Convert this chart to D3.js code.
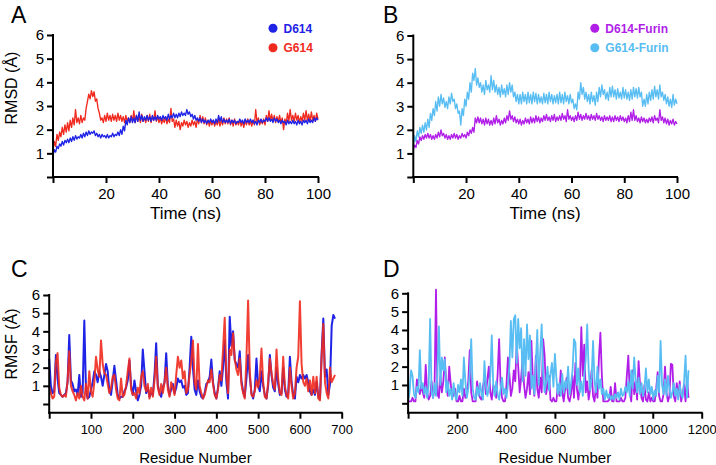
<!DOCTYPE html>
<html><head><meta charset="utf-8">
<script src="https://cdn.jsdelivr.net/npm/d3@7"></script>
<style>
html,body{margin:0;padding:0;background:#fff;}
svg{display:block;font-family:"Liberation Sans",Arial,Helvetica,sans-serif;}
</style></head>
<body>
<svg id="chart" width="716" height="465"></svg>
<script>
// ---------- DATA ----------
const yTicks = [0,1,2,3,4,5,6];
const timeTicks = [0,20,40,60,80,100];
const residueTicksC = [0,100,200,300,400,500,600,700];
const residueTicksD = [0,200,400,600,800,1000,1200];
const timeDomain = [0,100];
const rmsfStepC = 4;   // residue spacing of RMSF samples, panel C
const rmsfStepD = 6;   // residue spacing of RMSF samples, panel D

const seriesNamesA = ["D614","G614"];
const seriesNamesB = ["D614-Furin","G614-Furin"];

// RMSD (Å), sampled every 0.5 ns from 0 to 100 ns
const rmsdD614 = [0.9,
1.15,1.05,1.3,1.2,1.4,1.3,1.5,1.35,1.55,1.45,
1.6,1.45,1.65,1.5,1.7,1.55,1.75,1.6,1.7,1.65,
1.8,1.65,1.85,1.7,1.9,1.75,1.95,1.8,1.9,1.85,
1.95,1.75,1.85,1.7,1.8,1.65,1.8,1.7,1.75,1.65,
1.8,1.65,1.75,1.7,1.85,1.7,1.8,1.75,1.9,1.75,
2.0,1.8,2.15,1.95,2.4,2.2,2.5,2.3,2.55,2.3,
2.5,2.3,2.6,2.35,2.75,2.4,2.6,2.35,2.55,2.4,
2.6,2.4,2.55,2.35,2.6,2.4,2.55,2.4,2.6,2.45,
2.55,2.4,2.6,2.45,2.55,2.4,2.65,2.45,2.6,2.5,
2.7,2.5,2.65,2.5,2.7,2.55,2.75,2.6,2.7,2.6,
2.85,2.65,2.75,2.55,2.65,2.45,2.6,2.4,2.5,2.35,
2.5,2.3,2.45,2.3,2.4,2.25,2.4,2.3,2.45,2.3,
2.4,2.25,2.45,2.3,2.6,2.35,2.55,2.3,2.45,2.3,
2.4,2.3,2.45,2.25,2.4,2.3,2.4,2.25,2.35,2.3,
2.45,2.3,2.4,2.25,2.45,2.3,2.4,2.3,2.45,2.3,
2.4,2.25,2.35,2.2,2.4,2.3,2.45,2.3,2.4,2.35,
2.5,2.35,2.5,2.35,2.45,2.3,2.5,2.35,2.45,2.3,
2.4,2.25,2.4,2.3,2.35,2.2,2.4,2.25,2.35,2.25,
2.4,2.25,2.35,2.2,2.4,2.25,2.35,2.2,2.4,2.3,
2.4,2.25,2.45,2.3,2.4,2.3,2.5,2.35,2.5,2.4];

const rmsdG614 = [1.1,
1.5,1.3,1.8,1.55,1.9,1.7,2.1,1.8,2.2,1.9,
2.3,1.95,2.4,2.1,2.5,2.2,2.85,2.3,2.5,2.25,
2.6,2.3,2.5,2.4,2.9,3.2,3.5,3.3,3.65,3.4,
3.6,3.2,3.3,2.9,2.7,2.4,2.5,2.3,2.6,2.35,
2.7,2.4,2.6,2.35,2.65,2.4,2.6,2.35,2.7,2.4,
2.6,2.35,2.55,2.3,2.6,2.35,2.5,2.3,2.6,2.35,
2.8,2.3,2.6,2.35,2.55,2.3,2.65,2.35,2.5,2.3,
2.6,2.35,2.65,2.3,2.55,2.4,2.8,2.35,2.55,2.3,
2.5,2.25,2.45,2.3,2.55,2.25,2.45,2.3,2.9,2.35,
2.45,2.1,2.4,2.15,2.35,2.0,2.3,2.15,2.4,2.2,
2.35,2.1,2.3,2.15,2.4,2.2,2.35,2.1,2.45,2.25,
2.6,2.3,2.55,2.25,2.5,2.2,2.4,2.15,2.35,2.2,
2.4,2.15,2.35,2.2,2.45,2.15,2.4,2.2,2.5,2.25,
2.45,2.25,2.5,2.2,2.4,2.15,2.45,2.2,2.35,2.2,
2.4,2.15,2.35,2.1,2.4,2.2,2.45,2.2,2.35,2.15,
2.4,2.2,2.85,2.3,2.5,2.2,2.4,2.25,2.45,2.2,
2.6,2.35,2.8,2.4,2.65,2.35,2.6,2.3,2.55,2.35,
2.6,2.3,2.5,2.0,2.45,2.25,2.7,2.35,2.85,2.4,
2.6,2.35,2.7,2.4,2.6,2.3,2.55,2.35,2.7,2.4,
2.8,2.4,2.65,2.35,2.75,2.4,2.6,2.35,2.7,2.45];

const rmsdD614Furin = [1.15,
1.35,1.25,1.55,1.4,1.7,1.55,1.75,1.6,1.8,1.65,
1.85,1.65,1.8,1.6,1.75,1.6,1.8,1.65,1.9,1.7,
2.0,1.75,1.85,1.65,1.8,1.6,1.75,1.6,1.8,1.65,
1.85,1.65,1.8,1.6,1.75,1.65,1.85,1.7,1.8,1.65,
1.9,1.75,2.0,1.85,2.1,1.9,2.5,2.3,2.55,2.3,
2.5,2.25,2.45,2.2,2.5,2.25,2.45,2.2,2.4,2.2,
2.5,2.25,2.6,2.3,2.45,2.2,2.4,2.25,2.5,2.3,
2.6,2.4,2.8,2.45,2.6,2.35,2.55,2.3,2.45,2.25,
2.45,2.2,2.4,2.25,2.5,2.3,2.45,2.25,2.55,2.3,
2.5,2.3,2.6,2.35,2.55,2.3,2.5,2.35,2.6,2.4,
2.65,2.4,2.55,2.35,2.6,2.4,2.65,2.35,2.55,2.4,
2.6,2.4,2.7,2.45,2.6,2.35,2.85,2.45,2.6,2.4,
2.55,2.35,2.6,2.4,2.75,2.45,2.65,2.4,2.6,2.45,
2.7,2.45,2.6,2.4,2.65,2.45,2.6,2.4,2.7,2.45,
2.6,2.4,2.55,2.35,2.6,2.4,2.55,2.4,2.6,2.35,
2.55,2.35,2.6,2.4,2.55,2.35,2.6,2.4,2.55,2.35,
2.5,2.3,2.6,2.35,2.75,2.4,2.85,2.4,2.6,2.35,
2.5,2.3,2.55,2.35,2.5,2.3,2.45,2.3,2.5,2.35,
2.55,2.3,2.6,2.4,2.5,2.3,2.85,2.4,2.55,2.3,
2.5,2.25,2.45,2.2,2.4,2.25,2.45,2.2,2.35,2.25];

const rmsdG614Furin = [1.3,
1.75,1.5,1.95,1.7,2.1,1.85,2.2,1.9,2.3,2.0,
2.45,2.1,2.7,2.4,2.9,2.6,3.2,2.8,3.4,3.0,
3.5,3.1,3.35,2.95,3.2,2.9,3.4,3.1,3.55,3.2,
3.3,2.9,3.1,2.7,2.8,2.2,2.9,2.6,3.3,3.0,
3.6,3.3,4.0,3.6,4.4,4.1,4.6,3.9,4.2,3.8,
4.0,3.6,3.9,3.5,4.1,3.7,3.9,3.6,4.3,3.7,
4.1,3.6,3.9,3.5,3.8,3.4,3.9,3.5,3.75,3.4,
3.9,3.5,4.0,3.6,3.9,3.4,3.6,3.2,3.5,3.1,
3.5,3.1,3.6,3.2,3.5,3.1,3.6,3.15,3.5,3.1,
3.6,3.2,3.55,3.1,3.5,3.15,3.4,3.1,3.55,3.15,
3.5,3.1,3.6,3.2,3.5,3.1,3.45,3.15,3.5,3.1,
3.6,3.15,3.5,3.1,3.6,3.2,3.45,3.1,3.5,3.15,
3.3,2.9,3.1,2.85,3.6,3.3,4.0,3.5,3.8,3.3,
3.6,3.2,3.5,3.1,3.6,3.2,3.45,3.05,3.6,3.2,
3.8,3.4,3.9,3.5,3.7,3.3,3.6,3.25,3.8,3.4,
3.85,3.4,3.7,3.3,3.75,3.35,3.6,3.3,3.8,3.35,
3.7,3.3,3.6,3.25,3.7,3.3,3.8,3.4,3.75,3.35,
3.8,3.4,3.6,3.0,3.3,3.0,3.5,3.1,3.6,3.25,
3.7,3.3,3.85,3.4,3.7,3.3,3.9,3.4,3.6,3.25,
3.5,3.1,3.4,3.0,3.3,2.95,3.5,3.05,3.3,3.1];

// RMSF (Å) per residue, panel C (every 4 residues from 0)
const rmsfD614 = [2.5,1.0,0.6,0.7,2.7,1.4,0.6,0.5,0.4,0.5,
0.6,1.2,3.8,1.3,1.1,0.7,0.8,0.5,1.6,0.4,
0.6,4.6,0.8,0.3,0.4,0.8,1.2,1.8,1.6,1.2,
1.8,1.5,1.0,1.6,2.2,1.8,0.7,0.5,1.3,2.1,
1.3,0.5,0.3,0.4,0.4,0.7,0.9,1.3,2.4,1.0,
0.5,1.3,0.7,0.2,0.5,1.0,3.0,1.8,0.6,0.9,
0.4,0.6,0.5,1.6,3.35,1.0,0.6,0.4,0.9,1.2,
2.8,1.0,0.5,0.8,1.1,0.6,0.9,1.4,1.2,1.3,
0.9,1.0,0.5,0.6,2.0,3.7,2.0,0.8,0.5,1.3,
0.7,0.4,0.3,0.6,1.1,1.2,1.5,2.45,1.2,0.6,
0.3,0.9,1.8,1.0,2.0,3.5,1.2,0.3,4.8,3.2,
4.0,2.4,2.2,2.0,2.9,1.3,0.7,0.4,1.4,2.7,
1.5,0.6,0.3,0.8,2.5,1.0,0.7,1.8,1.0,0.5,
0.3,1.0,2.7,1.6,0.9,0.7,2.0,1.1,0.5,0.6,
2.0,0.8,0.4,0.6,2.6,1.2,0.5,0.3,1.5,1.2,
1.6,1.4,1.6,1.4,1.6,1.2,0.7,0.5,0.8,0.5,
1.2,0.4,0.3,2.8,4.7,1.5,1.9,0.5,1.1,4.3,
4.9,4.7];

const rmsfG614 = [1.0,0.6,0.3,0.4,2.3,2.8,0.9,0.5,0.4,0.5,
0.4,1.3,2.9,1.0,0.7,0.5,0.2,0.6,0.3,1.0,
0.4,0.2,1.1,0.3,1.8,0.7,0.4,1.2,2.6,1.9,
1.5,3.5,2.2,1.7,1.6,1.1,0.6,0.9,1.5,1.6,
0.8,0.3,0.2,1.4,0.4,0.5,1.0,1.8,2.5,0.8,
0.5,0.6,0.3,0.9,0.6,1.5,1.8,1.0,0.7,1.1,
0.3,0.9,0.4,1.3,2.6,0.9,0.5,1.1,0.6,1.2,
2.0,0.8,0.4,1.2,0.9,0.5,1.6,2.6,2.0,2.4,
1.4,1.8,0.6,0.8,1.6,2.4,3.5,1.2,0.8,3.3,
1.0,0.6,0.3,0.5,0.9,1.3,1.2,1.9,1.1,0.5,
0.3,0.8,1.6,1.3,3.0,4.75,1.6,0.6,3.0,2.7,
3.9,2.5,1.9,1.6,2.5,1.1,0.6,0.3,2.5,5.7,
1.8,0.5,0.4,0.7,1.3,0.9,1.5,3.05,1.2,0.4,
0.3,1.2,2.5,1.7,1.1,0.8,3.0,1.4,0.6,0.5,
2.6,1.0,0.5,0.3,2.0,1.0,0.3,0.6,2.0,2.6,
5.65,2.2,1.2,1.0,1.4,0.7,1.3,0.5,1.5,0.6,
1.5,0.3,0.2,2.6,4.4,1.2,0.6,0.3,2.0,1.2,
1.4,1.6];

// RMSF (Å) per residue, panel D (every 6 residues from 0)
const rmsfD614Furin = [0.1,0.1,0.1,0.3,0.1,0.1,1.3,0.8,0.5,1.0,
0.6,0.3,2.1,0.6,0.2,0.4,1.2,0.3,0.8,6.2,
0.5,0.3,1.5,0.6,1.2,2.5,1.0,0.4,2.0,1.1,
0.3,0.5,0.8,0.1,0.1,0.4,0.1,0.1,0.8,0.3,
0.5,1.2,2.9,0.6,0.1,0.1,0.1,1.2,0.6,0.3,
0.2,0.9,1.4,0.5,1.3,2.0,0.6,0.2,1.0,0.8,
0.3,1.6,3.5,1.0,0.3,0.1,0.1,1.0,2.5,1.6,
0.4,0.8,1.8,1.2,3.3,2.0,0.6,1.4,2.4,1.0,
0.3,0.8,1.7,0.5,3.4,1.2,0.4,2.6,0.8,0.3,
1.4,0.6,3.5,2.6,0.5,1.0,1.5,0.2,0.1,0.3,
0.1,0.1,1.0,0.4,1.8,0.6,0.1,0.8,1.4,0.3,
0.1,0.5,1.5,0.3,2.2,0.8,0.2,1.0,4.15,1.5,
3.2,0.6,1.2,0.2,0.8,1.8,0.4,0.1,1.0,0.3,
2.5,3.85,1.5,0.1,0.1,0.1,0.1,0.2,0.9,0.1,
0.1,1.1,0.1,0.1,0.1,0.3,0.1,0.1,0.3,1.5,
2.6,0.6,0.1,1.8,0.5,1.2,0.2,2.3,1.0,0.3,
0.1,1.0,0.2,0.1,0.6,0.1,0.3,0.1,0.1,0.8,
1.7,0.4,0.1,0.1,0.5,2.0,0.6,0.1,0.4,2.15,
2.1,0.4,0.1,1.1,0.3,1.2,0.1,0.5,1.0,0.1,
1.4,0.3];

const rmsfG614Furin = [0.1,0.6,1.8,1.5,0.5,0.3,0.9,0.6,2.9,0.8,
1.1,0.5,0.9,0.3,1.0,4.6,0.6,0.3,1.1,0.4,
1.6,4.2,1.0,2.5,1.8,2.4,0.6,1.2,0.4,0.8,
0.2,1.1,0.4,0.2,1.0,0.6,1.3,0.4,2.5,1.2,
0.3,0.8,1.6,3.5,0.8,0.3,0.2,0.9,0.4,1.1,
0.5,0.2,2.3,1.0,0.4,0.8,1.5,3.7,1.0,0.4,
1.2,0.5,0.2,0.8,1.4,0.5,0.8,0.3,1.0,2.0,
4.5,2.5,4.6,4.8,2.2,4.6,3.0,4.1,1.2,3.5,
1.5,4.3,2.4,3.7,0.8,1.5,0.5,2.2,4.0,1.0,
2.8,4.3,1.6,0.6,1.2,2.0,0.7,1.6,2.2,0.9,
2.7,1.4,0.5,1.1,0.4,1.6,0.6,1.2,0.8,2.0,
0.5,1.1,1.8,3.5,3.3,1.0,1.9,0.6,1.2,0.4,
1.5,2.4,4.3,1.8,0.7,1.4,3.4,1.2,0.6,2.0,
0.8,1.3,0.5,0.8,0.2,0.7,0.3,0.5,0.2,0.4,
0.2,0.5,0.3,0.6,0.2,0.8,0.4,0.5,0.9,0.6,
1.2,0.4,1.8,0.8,2.5,1.3,0.6,1.4,0.5,1.1,
0.4,0.8,1.9,0.6,1.3,0.5,0.9,0.2,0.7,0.4,
1.5,0.6,3.4,1.0,0.5,1.3,0.4,1.5,0.8,0.3,
0.6,1.1,0.4,0.8,0.2,1.0,0.5,0.3,1.2,2.6,
0.3,1.8];

const colors = {D614:"#1f23e6", G614:"#f02a1e", "D614-Furin":"#b01ee8", "G614-Furin":"#58bdf2"};

// ---------- DRAW ----------
const svg = d3.select("#chart");
const FONT = '"Liberation Sans",Arial,Helvetica,sans-serif';

function panel(cfg){
  const g = svg.append("g");
  const x = d3.scaleLinear().domain(cfg.xDomain).range(cfg.xRange);
  const y = d3.scaleLinear().domain([0,6]).range(cfg.yRange);
  // series
  cfg.series.forEach(s=>{
    const n = s.values.length;
    const pts = s.values.map((v,i)=>[s.xOf(i,n), v]);
    g.append("path").datum(pts)
      .attr("fill","none").attr("stroke",colors[s.name])
      .attr("stroke-width",cfg.lw).attr("stroke-linejoin","round")
      .attr("stroke-opacity", s.opacity||1)
      .attr("d", d3.line().x(d=>x(d[0])).y(d=>y(d[1])));
  });
  // y axis
  const ya = d3.axisLeft(y).tickValues(yTicks).tickSize(6).tickSizeOuter(0).tickPadding(3)
      .tickFormat(d=> d===0 ? "" : d);
  const yg = g.append("g").attr("transform",`translate(${cfg.xRange[0]},0)`).call(ya);
  yg.select(".domain").remove();
  yg.selectAll(".tick line").attr("stroke","#000").attr("stroke-width",2);
  yg.selectAll(".tick text").attr("fill","#000").style("font-size","15px").style("font-family",FONT);
  g.append("line").attr("x1",cfg.xRange[0]).attr("x2",cfg.xRange[0])
    .attr("y1",y(6)-1).attr("y2",cfg.xAxisY+1).attr("stroke","#000").attr("stroke-width",2);
  // x axis
  const xa = d3.axisBottom(x).tickValues(cfg.xTicks).tickSize(6).tickSizeOuter(0).tickPadding(cfg.xTickPad)
      .tickFormat(d=> d===0 ? "" : d);
  const xg = g.append("g").attr("transform",`translate(0,${cfg.xAxisY})`).call(xa);
  xg.select(".domain").remove();
  xg.selectAll(".tick line").attr("stroke","#000").attr("stroke-width",2);
  xg.selectAll(".tick text").attr("fill","#000").style("font-size",cfg.xTickSize+"px").style("font-family",FONT);
  g.append("line").attr("x1",cfg.xRange[0]-1).attr("x2",cfg.xRange[1]+1)
    .attr("y1",cfg.xAxisY).attr("y2",cfg.xAxisY).attr("stroke","#000").attr("stroke-width",2);
  // x title
  g.append("text").attr("x",(cfg.xRange[0]+cfg.xRange[1])/2).attr("y",cfg.xTitleY)
    .attr("text-anchor","middle").style("font-size",cfg.xTitleSize+"px").style("font-family",FONT)
    .text(cfg.xTitle);
  // y title
  if(cfg.yTitle){
    g.append("text").attr("transform",`translate(${cfg.yTitleX},${cfg.yTitleCY}) rotate(-90)`)
      .attr("text-anchor","middle").style("font-size","16px").style("font-family",FONT)
      .text(cfg.yTitle);
  }
  // letter
  g.append("text").attr("x",cfg.letterX).attr("y",cfg.letterY)
    .style("font-size","23px").style("font-family",FONT).text(cfg.letter);
  // legend
  if(cfg.legend){
    cfg.legend.names.forEach((nm,i)=>{
      const ly = cfg.legend.y + i*19.5;
      g.append("circle").attr("cx",cfg.legend.x).attr("cy",ly).attr("r",4.5).attr("fill",colors[nm]);
      g.append("text").attr("x",cfg.legend.x+10.5).attr("y",ly+4.3)
        .style("font-size","12px").style("font-weight","bold").style("font-family",FONT)
        .attr("fill",colors[nm]).text(nm);
    });
  }
}

const timeOf = (i,n)=> timeDomain[0] + i*(timeDomain[1]-timeDomain[0])/(n-1);

panel({xDomain:[0,100], xRange:[53,318], yRange:[177,35], xAxisY:177, xTicks:timeTicks,
  xTickSize:15, xTickPad:5,
  lw:1.35, xTitle:"Time (ns)", xTitleY:219, xTitleSize:17, yTitle:"RMSD (Å)", yTitleX:17, yTitleCY:88,
  letter:"A", letterX:11, letterY:23,
  legend:{names:seriesNamesA, x:273, y:28.3},
  series:[{name:"G614", values:rmsdG614, xOf:timeOf},{name:"D614", values:rmsdD614, xOf:timeOf}]});

panel({xDomain:[0,100], xRange:[413.3,677], yRange:[177,35.5], xAxisY:177, xTicks:timeTicks,
  xTickSize:15, xTickPad:5,
  lw:1.35, xTitle:"Time (ns)", xTitleY:219, xTitleSize:17, yTitle:null,
  letter:"B", letterX:383, letterY:23,
  legend:{names:seriesNamesB, x:594.8, y:28.3},
  series:[{name:"G614-Furin", values:rmsdG614Furin, xOf:timeOf},{name:"D614-Furin", values:rmsdD614Furin, xOf:timeOf}]});

panel({xDomain:[0,700], xRange:[49.2,341.7], yRange:[404,295], xAxisY:412.7, xTicks:residueTicksC,
  xTickSize:13, xTickPad:6,
  lw:2, xTitle:"Residue Number", xTitleY:463, xTitleSize:15, yTitle:"RMSF (Å)", yTitleX:17, yTitleCY:344,
  letter:"C", letterX:11, letterY:277,
  series:[{name:"D614", values:rmsfD614, xOf:(i)=>i*rmsfStepC},{name:"G614", values:rmsfG614, xOf:(i)=>i*rmsfStepC, opacity:0.9}]});

panel({xDomain:[0,1200], xRange:[408.1,701.7], yRange:[403.3,293.3], xAxisY:412.7, xTicks:residueTicksD,
  xTickSize:13, xTickPad:6,
  lw:1.8, xTitle:"Residue Number", xTitleY:463, xTitleSize:15, yTitle:null,
  letter:"D", letterX:383, letterY:277,
  series:[{name:"D614-Furin", values:rmsfD614Furin, xOf:(i)=>i*rmsfStepD},{name:"G614-Furin", values:rmsfG614Furin, xOf:(i)=>i*rmsfStepD}]});
</script>
</body></html>
